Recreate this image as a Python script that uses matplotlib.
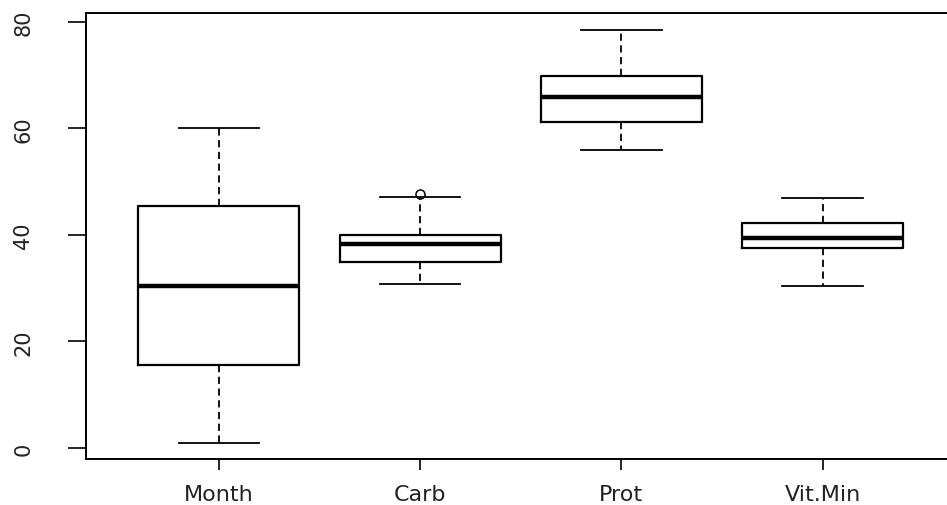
import matplotlib
matplotlib.use("Agg")
import matplotlib.pyplot as plt

# five-number summaries
labels = ["Month", "Carb", "Prot", "Vit.Min"]
whislo = [1.0, 30.8, 55.9, 30.4]
q1 = [15.5, 35.0, 61.2, 37.5]
med = [30.5, 38.2, 65.8, 39.5]
q3 = [45.5, 40.0, 69.8, 42.2]
whishi = [60.0, 47.2, 78.5, 47.0]
fliers = [[], [47.6], [], []]

plt.rcParams['font.family'] = ['DejaVu Sans']

fig = plt.figure(figsize=(9.47, 5.06), dpi=100)
ax = fig.add_axes([0.0908, 0.0909, 0.918, 0.882])

stats = []
for i in range(len(labels)):
    stats.append({'label': labels[i], 'whislo': whislo[i], 'q1': q1[i],
                  'med': med[i], 'q3': q3[i], 'whishi': whishi[i],
                  'fliers': fliers[i]})

ax.bxp(stats, positions=[1, 2, 3, 4], widths=0.8, showfliers=True,
       boxprops=dict(color='black', linewidth=1.6),
       medianprops=dict(color='black', linewidth=3.2, solid_capstyle='butt'),
       whiskerprops=dict(color='black', linewidth=1.3, linestyle=(0, (4, 2.5))),
       capprops=dict(color='black', linewidth=1.3),
       capwidths=0.4,
       flierprops=dict(marker='o', markerfacecolor='none', markeredgecolor='black',
                       markersize=6.5, markeredgewidth=1.1))

ax.set_xlim(0.34, 4.66)
ax.set_ylim(-2.06, 81.7)
ax.set_yticks([0, 20, 40, 60, 80])
ax.set_yticklabels(['0', '20', '40', '60', '80'], rotation=90, va='center')
ax.set_xticks([1, 2, 3, 4])
ax.set_xticklabels(labels)

for s in ax.spines.values():
    s.set_linewidth(1.4)
ax.tick_params(axis='y', length=13, width=1.2, pad=25, labelsize=15, colors='black')
ax.tick_params(axis='x', length=8, width=1.2, pad=10, labelsize=16, colors='black')
for t in ax.get_xticklabels() + ax.get_yticklabels():
    t.set_color('#222222')

fig.savefig('out.png', dpi=100)
